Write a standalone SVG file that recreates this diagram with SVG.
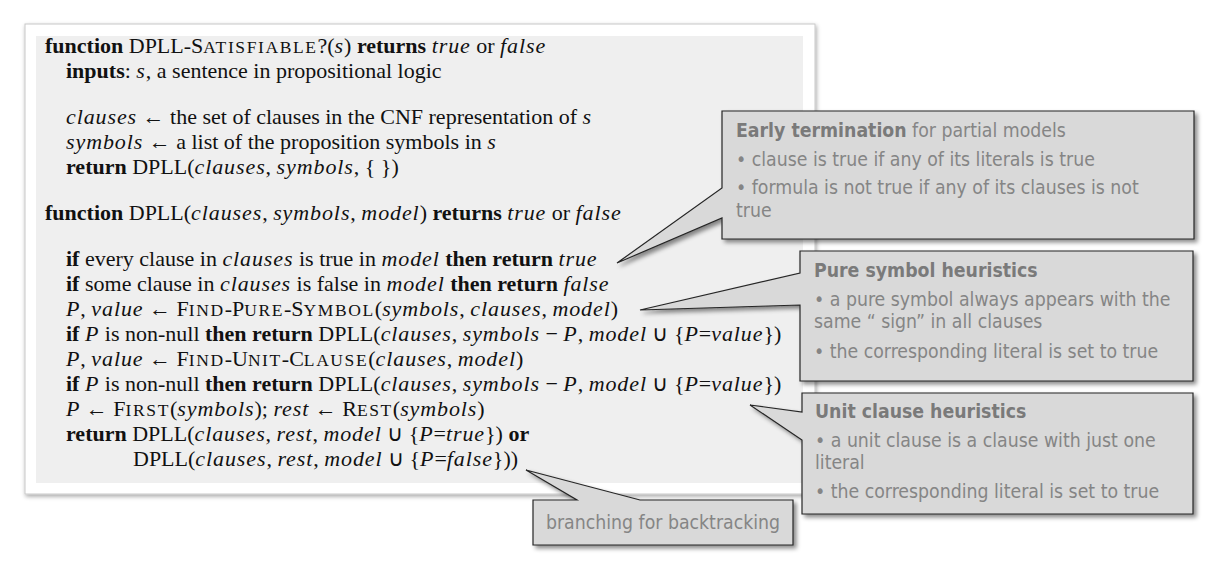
<svg xmlns="http://www.w3.org/2000/svg" width="1224" height="576" viewBox="0 0 1224 576">
<defs>
<filter id="sh" x="-5%" y="-5%" width="115%" height="120%">
<feDropShadow dx="3" dy="3" stdDeviation="2" flood-color="#000" flood-opacity="0.45"/>
</filter>
<filter id="msh" x="-3%" y="-3%" width="106%" height="108%">
<feDropShadow dx="1" dy="2" stdDeviation="2" flood-color="#000" flood-opacity="0.35"/>
</filter>
<style>
.code{font-family:"Liberation Serif","Times New Roman",serif;font-size:22px;fill:#111}
.b{font-weight:bold}
.i{font-style:italic;letter-spacing:0.9px}
.sc{font-size:17.5px;letter-spacing:1.6px}
.co{fill:#d9d9d9;stroke:#262626;stroke-width:1.2;stroke-linejoin:miter}
.ct{font-family:"DejaVu Sans Condensed","DejaVu Sans",sans-serif;font-stretch:condensed;font-size:19.3px;fill:#858585}
.h{font-weight:bold;fill:#7a7a7a}
</style>
</defs>
<rect width="1224" height="576" fill="#fff"/>
<g id="algorithm">
<rect x="25" y="24" width="790" height="470" fill="#fff" stroke="#c8c8c8" stroke-width="1" filter="url(#msh)"/>
<rect x="36" y="36" width="767" height="447" fill="#efefef"/>
<g class="code">
<text x="45" y="53"><tspan class="b">function</tspan> DPLL-S<tspan class="sc">ATISFIABLE</tspan>?(<tspan class="i">s</tspan>) <tspan class="b">returns</tspan> <tspan class="i">true</tspan> or <tspan class="i">false</tspan></text>
<text x="66" y="78"><tspan class="b">inputs</tspan>: <tspan class="i">s</tspan>, a sentence in propositional logic</text>
<text x="66" y="124"><tspan class="i">clauses</tspan> ← the set of clauses in the CNF representation of <tspan class="i">s</tspan></text>
<text x="66" y="149"><tspan class="i">symbols</tspan> ← a list of the proposition symbols in <tspan class="i">s</tspan></text>
<text x="66" y="174"><tspan class="b">return</tspan> DPLL(<tspan class="i">clauses</tspan>, <tspan class="i">symbols</tspan>, { })</text>
<text x="45" y="220"><tspan class="b">function</tspan> DPLL(<tspan class="i">clauses</tspan>, <tspan class="i">symbols</tspan>, <tspan class="i">model</tspan>) <tspan class="b">returns</tspan> <tspan class="i">true</tspan> or <tspan class="i">false</tspan></text>
<text x="66" y="266"><tspan class="b">if</tspan> every clause in <tspan class="i">clauses</tspan> is true in <tspan class="i">model</tspan> <tspan class="b">then return</tspan> <tspan class="i">true</tspan></text>
<text x="66" y="291"><tspan class="b">if</tspan> some clause in <tspan class="i">clauses</tspan> is false in <tspan class="i">model</tspan> <tspan class="b">then return</tspan> <tspan class="i">false</tspan></text>
<text x="66" y="316"><tspan class="i">P</tspan>, <tspan class="i">value</tspan> ← F<tspan class="sc">IND</tspan>-P<tspan class="sc">URE</tspan>-S<tspan class="sc">YMBOL</tspan>(<tspan class="i">symbols</tspan>, <tspan class="i">clauses</tspan>, <tspan class="i">model</tspan>)</text>
<text x="66" y="341"><tspan class="b">if</tspan> <tspan class="i">P</tspan> is non-null <tspan class="b">then return</tspan> DPLL(<tspan class="i">clauses</tspan>, <tspan class="i">symbols</tspan> − <tspan class="i">P</tspan>, <tspan class="i">model</tspan> ∪ {<tspan class="i">P</tspan>=<tspan class="i">value</tspan>})</text>
<text x="66" y="366"><tspan class="i">P</tspan>, <tspan class="i">value</tspan> ← F<tspan class="sc">IND</tspan>-U<tspan class="sc">NIT</tspan>-C<tspan class="sc">LAUSE</tspan>(<tspan class="i">clauses</tspan>, <tspan class="i">model</tspan>)</text>
<text x="66" y="391"><tspan class="b">if</tspan> <tspan class="i">P</tspan> is non-null <tspan class="b">then return</tspan> DPLL(<tspan class="i">clauses</tspan>, <tspan class="i">symbols</tspan> − <tspan class="i">P</tspan>, <tspan class="i">model</tspan> ∪ {<tspan class="i">P</tspan>=<tspan class="i">value</tspan>})</text>
<text x="66" y="416"><tspan class="i">P</tspan> ← F<tspan class="sc">IRST</tspan>(<tspan class="i">symbols</tspan>); <tspan class="i">rest</tspan> ← R<tspan class="sc">EST</tspan>(<tspan class="i">symbols</tspan>)</text>
<text x="66" y="441"><tspan class="b">return</tspan> DPLL(<tspan class="i">clauses</tspan>, <tspan class="i">rest</tspan>, <tspan class="i">model</tspan> ∪ {<tspan class="i">P</tspan>=<tspan class="i">true</tspan>}) <tspan class="b">or</tspan></text>
<text x="133" y="466">DPLL(<tspan class="i">clauses</tspan>, <tspan class="i">rest</tspan>, <tspan class="i">model</tspan> ∪ {<tspan class="i">P</tspan>=<tspan class="i">false</tspan>}))</text>
</g>
</g>
<g id="connectors">
</g>
<g id="early-termination">
<path class="co" filter="url(#sh)" d="M722,111 H1194 V239 H722 V218 L617,263 L722,188 Z"/>
<text class="ct" x="736" y="137"><tspan class="h">Early termination</tspan> for partial models</text>
<text class="ct" x="736" y="166">• clause is true if any of its literals is true</text>
<text class="ct" x="736" y="194">• formula is not true if any of its clauses is not</text>
<text class="ct" x="736" y="217">true</text>
</g>
<g id="pure-symbol">
<path class="co" filter="url(#sh)" d="M800,251 H1193 V381 H800 V305 L640,310 L800,273 Z"/>
<text class="ct h" x="814" y="277">Pure symbol heuristics</text>
<text class="ct" x="814" y="306">• a pure symbol always appears with the</text>
<text class="ct" x="814" y="328">same “ sign” in all clauses</text>
<text class="ct" x="814" y="358">• the corresponding literal is set to true</text>
</g>
<g id="unit-clause">
<path class="co" filter="url(#sh)" d="M802,393 H1193 V514 H802 V440 L750,405 L802,412 Z"/>
<text class="ct h" x="815" y="418">Unit clause heuristics</text>
<text class="ct" x="815" y="447">• a unit clause is a clause with just one</text>
<text class="ct" x="815" y="469">literal</text>
<text class="ct" x="815" y="498">• the corresponding literal is set to true</text>
</g>
<g id="branching">
<path class="co" filter="url(#sh)" d="M533,500 H577 L526,470 L640,500 H793 V545 H533 Z"/>
<text class="ct" x="663" y="529" text-anchor="middle">branching for backtracking</text>
</g>
</svg>
